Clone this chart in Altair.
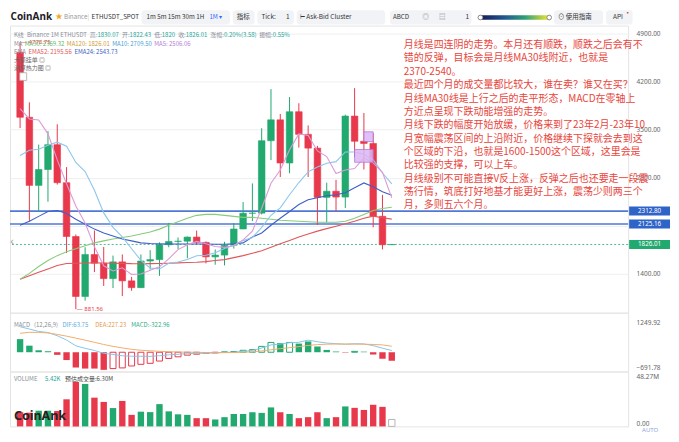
import altair as alt
import pandas as pd

# ---------------- data ----------------
months = ["2021-12", "2022-01", "2022-02", "2022-03", "2022-04", "2022-05", "2022-06", "2022-07",
          "2022-08", "2022-09", "2022-10", "2022-11", "2022-12",
          "2023-01", "2023-02", "2023-03", "2023-04", "2023-05", "2023-06", "2023-07", "2023-08",
          "2023-09", "2023-10", "2023-11", "2023-12",
          "2024-01", "2024-02", "2024-03", "2024-04", "2024-05", "2024-06", "2024-07", "2024-08",
          "2024-09", "2024-10", "2024-11", "2024-12",
          "2025-01", "2025-02", "2025-03", "2025-04"]
opens = [4630, 3682, 2688, 2920, 3282, 2727, 1942, 1067, 1679, 1553, 1328, 1572, 1295,
         1196, 1585, 1605, 1822, 1870, 1874, 1934, 1856, 1645, 1671, 1815, 2052,
         2282, 2283, 3340, 3645, 3015, 3763, 3433, 3232, 2513, 2603, 2518, 3700,
         3332, 3300, 2237, 1822.43]
highs = [4778.75, 3900, 3283, 3480, 3580, 2955, 1972, 1785, 2030, 1789, 1664, 1680, 1353,
         1680, 1743, 1857, 2141, 1928, 1942, 2029, 1870, 1753, 1865, 2138, 2445,
         2717, 3522, 4093, 3730, 3977, 3887, 3563, 3265, 2728, 2769, 3720, 4107,
         3745, 3450, 2550, 1830.07]
lows = [3524, 2159, 2300, 2450, 2700, 1700, 881.56, 1006, 1422, 1220, 1190, 1073, 1150,
        1190, 1461, 1368, 1785, 1760, 1626, 1826, 1550, 1531, 1521, 1766, 2050,
        2167, 2265, 3057, 2810, 2865, 3240, 2810, 2111, 2150, 2310, 2357, 3100,
        2920, 2076, 1754, 1820]
closes = [3682, 2688, 2920, 3282, 2727, 1942, 1067, 1679, 1553, 1328, 1572, 1295, 1196,
          1585, 1605, 1822, 1870, 1874, 1934, 1856, 1645, 1671, 1815, 2052, 2282,
          2283, 3340, 3645, 3015, 3763, 3433, 3232, 2513, 2603, 2518, 3700, 3332,
          3300, 2237, 1822, 1826.01]

ma5 = [3807, 3658, 3642, 3440, 3060, 2712, 2388, 2139, 1794, 1514, 1440, 1485, 1389,
       1395, 1451, 1501, 1616, 1751, 1821, 1871, 1836, 1796, 1784, 1808, 1893,
       2021, 2354, 2720, 2913, 3209, 3439, 3418, 3191, 3109, 2860, 2913, 2933,
       3091, 3017, 2878, 2506.06]
ma10 = [3124, 3201, 3216, 3274, 3319, 3259, 3023, 2891, 2617, 2287, 2076, 1937, 1764,
        1594, 1482, 1470, 1551, 1570, 1608, 1661, 1668, 1706, 1768, 1814, 1882,
        1928, 2075, 2252, 2360, 2551, 2730, 2886, 2956, 3011, 3035, 3176, 3175,
        3141, 3063, 2869, 2709.50]
ma30 = [1318, 1404, 1505, 1591, 1663, 1720, 1763, 1806, 1849, 1878, 1906, 1928, 1950,
        1978, 2007, 2050, 2107, 2158, 2208, 2251, 2265, 2265, 2251, 2236, 2222,
        2222, 2208, 2193, 2179, 2172, 2165, 2158, 2150, 2150, 2150, 2165, 2208,
        2265, 2323, 2351, 2369.32]
ema52 = [1318, 1368, 1419, 1469, 1519, 1548, 1552, 1556, 1558, 1556, 1553, 1550, 1546,
         1545, 1546, 1549, 1553, 1557, 1562, 1567, 1576, 1591, 1605, 1634, 1663,
         1698, 1734, 1785, 1835, 1885, 1935, 1978, 2021, 2057, 2093, 2129, 2165,
         2208, 2240, 2215, 2195.56]
ema24 = [2107, 2165, 2236, 2308, 2322, 2279, 2193, 2122, 2050, 1993, 1950, 1906, 1878,
         1849, 1840, 1835, 1833, 1832, 1832, 1833, 1832, 1830, 1830, 1835, 1849,
         1935, 1993, 2107, 2208, 2308, 2409, 2480, 2509, 2538, 2552, 2581, 2653,
         2724, 2667, 2595, 2543.73]

macd_hist = [497, 249, 74, 37, -99, -296, -582, -619, -619, -668, -619, -594, -520,
             -458, -421, -334, -235, -173, -111, -74, -62, -25, 12, 25, 74,
             99, 222, 371, 347, 371, 327, 409, 218, 87, 27, -16, 33,
             22, -87, -247, -322.96]
macd_hollow = [0, 0, 0, 0, 0, 0, 0, 0, 0, 0, 1, 1, 1,
               1, 1, 1, 1, 1, 1, 1, 0, 1, 1, 1, 1,
               1, 1, 1, 0, 1, 0, 0, 0, 0, 0, 0, 1,
               0, 0, 0, 0]
dea = [719, 756, 752, 730, 676, 610, 534, 458, 376, 294, 223, 164, 109,
       76, 55, 35, 20, 9, 2, -4, -11, -15, -15, -11, 0,
       16, 49, 93, 136, 174, 213, 256, 289, 305, 311, 311, 307,
       305, 294, 278, 227.23]
dif = [968, 880, 789, 748, 626, 462, 243, 148, 66, -40, -86, -133, -151,
       -153, -156, -132, -98, -78, -54, -41, -42, -27, -9, 1, 37,
       66, 160, 278, 310, 360, 377, 460, 398, 348, 324, 303, 323,
       316, 250, 154, 63.75]

volumes_m = [12.9, 12.5, 14.3, 14.3, 14.0, 24.7, 40.5, 38.7, 26.2, 22.3, 16.7, 23.2, 10.5,
             13.4, 13.0, 20.3, 13.7, 11.0, 10.5, 7.5, 7.5, 6.3, 8.4, 11.3, 11.3,
             12.9, 12.3, 17.3, 12.9, 11.3, 7.5, 8.4, 12.9, 7.5, 8.4, 18.2, 16.9,
             15.0, 19.7, 17.8, 0.00542]
est_volume_m = 6.30

level_prices = [2312.80, 2125.16]
last_price = 1826.01

# purple order boxes (month index span, price span)
box_x0 = [37.0, 36.0]
box_x1 = [38.0, 38.0]
box_p0 = [3327, 3026]
box_p1 = [3470, 3212]

annotation_lines = [
    "月线是四连阴的走势。本月还有顺跌，顺跌之后会有不",
    "错的反弹，目标会是月线MA30线附近，也就是",
    "2370-2540。",
    "最近四个月的成交量都比较大，谁在卖？谁又在买？",
    "月线MA30线是上行之后的走平形态，MACD在零轴上",
    "方近点呈现下跌动能增强的走势。",
    "月线下跌的幅度开始放缓，价格来到了23年2月-23年10",
    "月宽幅震荡区间的上沿附近，价格继续下探就会去到这",
    "个区域的下沿，也就是1600-1500这个区域，这里会是",
    "比较强的支撑，可以上车。",
    "月线级别不可能直接V反上涨，反弹之后也还要走一段震",
    "荡行情，筑底打好地基才能更好上涨，震荡少则两三个",
    "月，多则五六个月。",
]

# ---------------- layout / style ----------------
W = 620
H_TOOL = 16
H_PRICE = 288
H_MACD = 59
H_VOL = 55
FONT = "Noto Sans CJK SC"
RED = "#e8394c"
GREEN = "#22a96f"
GRAY = "#8a8f99"
VAL = "#26a69a"


def sx(v):
    return round((v - 3) * 0.985, 1)


def tw(s, fs):
    w = 0.0
    for ch in s:
        o = ord(ch)
        if o >= 0x2E80 or ch in "◎★▾▤⊙":
            w += fs
        elif ch.isdigit():
            w += 0.55 * fs
        elif ch.isupper():
            w += 0.64 * fs
        elif ch.islower():
            w += 0.52 * fs
        elif ch in " .:,;":
            w += 0.27 * fs
        elif ch in "()":
            w += 0.33 * fs
        elif ch == "%":
            w += 0.85 * fs
        elif ch in "-_":
            w += 0.4 * fs
        else:
            w += 0.55 * fs
    return w


def seg_rows(lines, x0, fs):
    rows = []
    for y, parts in lines:
        x = x0
        for t, c in parts:
            rows.append({"t": t, "x": x, "y": y, "c": c})
            x += tw(t, fs)
    return pd.DataFrame(rows)


def text_layer(lines, x0, fs):
    return alt.Chart(seg_rows(lines, x0, fs)).mark_text(
        align="left", baseline="middle", fontSize=fs, font=FONT
    ).encode(
        x=alt.X("x:Q", scale=None, axis=None),
        y=alt.Y("y:Q", scale=None, axis=None),
        text="t:N",
        color=alt.Color("c:N", scale=None),
    )


n = len(months)
idx = list(range(n))
df = pd.DataFrame({
    "idx": idx, "month": months, "open": opens, "high": highs, "low": lows, "close": closes,
    "vol": volumes_m, "hist": macd_hist, "hollow": macd_hollow, "dif": dif, "dea": dea,
})

x_scale = alt.Scale(domain=[-0.55, 64.9], nice=False, zero=False)
X = alt.X("idx:Q", scale=x_scale, axis=None)
dir_scale = alt.Scale(domain=["up", "down"], range=[GREEN, RED])

AX_STYLE = dict(labelFont="Noto Sans", labelFontSize=6.5, labelColor="#666666")

# ---------------- toolbar ----------------
tb_boxes = pd.DataFrame({
    "x0": [sx(137), sx(230), sx(255), sx(295), sx(390), sx(557), sx(610)],
    "x1": [sx(227), sx(252), sx(292), sx(385), sx(473), sx(607), sx(637)],
    "y0": [0.5] * 7, "y1": [15.0] * 7,
})
tb_items = pd.DataFrame([
    {"t": "★", "x": sx(49), "s": 7.5, "c": "#f5a623"},
    {"t": "Binance", "x": sx(58), "s": 6.3, "c": "#9a9a9a"},
    {"t": "|", "x": sx(82), "s": 6.5, "c": "#cccccc"},
    {"t": "ETHUSDT_SPOT", "x": sx(86), "s": 6.3, "c": "#333333"},
    {"t": "1m  5m  15m  30m  1H", "x": sx(142), "s": 6.3, "c": "#333333"},
    {"t": "1M ▾", "x": sx(206), "s": 6.3, "c": "#2f6bff"},
    {"t": "指标", "x": sx(234), "s": 6.5, "c": "#333333"},
    {"t": "Tick:", "x": sx(259), "s": 6.5, "c": "#333333"},
    {"t": "1", "x": sx(284), "s": 6.5, "c": "#333333"},
    {"t": "⊢ Ask-Bid Cluster", "x": sx(298), "s": 6.5, "c": "#333333"},
    {"t": "ABCD", "x": sx(393), "s": 6.3, "c": "#333333"},
    {"t": "◎", "x": sx(423), "s": 6.5, "c": "#888888"},
    {"t": "▤", "x": sx(440), "s": 6.5, "c": "#888888"},
    {"t": "1", "x": sx(467), "s": 6.5, "c": "#333333"},
    {"t": "⊙ 使用指南", "x": sx(561), "s": 6.5, "c": "#333333"},
    {"t": "API", "x": sx(617), "s": 6.5, "c": "#333333"},
    {"t": "•", "x": sx(628), "s": 8, "c": "#e53935"},
])
tb_items["y"] = [7.8] * (len(tb_items) - 1) + [4.0]

tool_boxes = alt.Chart(tb_boxes).mark_rect(cornerRadius=3, color="#f2f3f6").encode(
    x=alt.X("x0:Q", scale=None, axis=None), x2="x1:Q",
    y=alt.Y("y0:Q", scale=None, axis=None), y2="y1:Q")
tool_logo = alt.Chart(pd.DataFrame({"t": ["CoinAnk"], "x": [0.5], "y": [7.6]})).mark_text(
    align="left", baseline="middle", fontSize=10, fontWeight="bold", font="Noto Sans", color="#1d2129"
).encode(x=alt.X("x:Q", scale=None, axis=None), y=alt.Y("y:Q", scale=None, axis=None), text="t:N")
tool_text = alt.Chart(tb_items).mark_text(align="left", baseline="middle", font=FONT).encode(
    x=alt.X("x:Q", scale=None, axis=None), y=alt.Y("y:Q", scale=None, axis=None),
    text="t:N", size=alt.Size("s:Q", scale=None), color=alt.Color("c:N", scale=None))
grad = alt.LinearGradient(
    gradient="linear", x1=0, x2=1, y1=0, y2=0,
    stops=[alt.GradientStop(offset=0, color="#141a55"),
           alt.GradientStop(offset=0.35, color="#23588f"),
           alt.GradientStop(offset=0.65, color="#2fa07a"),
           alt.GradientStop(offset=1, color="#f3e62a")])
tool_grad = alt.Chart(pd.DataFrame({"x0": [sx(482)], "x1": [sx(552)], "y0": [5.6], "y1": [10.2]})).mark_rect(
    cornerRadius=2, fill=grad).encode(
    x=alt.X("x0:Q", scale=None, axis=None), x2="x1:Q",
    y=alt.Y("y0:Q", scale=None, axis=None), y2="y1:Q")
tool_handles = alt.Chart(pd.DataFrame({"x": [sx(482), sx(552)], "y": [7.9, 7.9]})).mark_point(
    shape="circle", filled=True, fill="white", stroke="#8a8a8a", strokeWidth=1, size=22, opacity=1).encode(
    x=alt.X("x:Q", scale=None, axis=None), y=alt.Y("y:Q", scale=None, axis=None))

toolbar = alt.layer(tool_boxes, tool_grad, tool_handles, tool_logo, tool_text).properties(
    width=W + 42, height=H_TOOL, view=alt.ViewBackground(stroke="transparent"))

# ---------------- price panel ----------------
price_scale = alt.Scale(domain=[830, 5020], nice=False, zero=False)
price_axis = alt.Axis(orient="right", values=[1400, 2100, 2800, 3500, 4200, 4900],
                      labelExpr="datum.value == 2100 ? '' : format(datum.value, '.2f')",
                      ticks=False, domain=False, grid=True, gridColor="#efefef",
                      labelPadding=8, labelFlush=False, labelOverlap=False, title=None, **AX_STYLE)


def PY(field):
    return alt.Y(field, scale=price_scale, axis=price_axis, title=None)


base = alt.Chart(df).transform_calculate(dir="datum.close >= datum.open ? 'up' : 'down'")

levels = alt.Chart(pd.DataFrame({"price": level_prices})).mark_rule(
    color="#4f79d4", strokeWidth=1.6).encode(y=PY("price:Q"))
last_rule = alt.Chart(pd.DataFrame({"price": [last_price]})).mark_rule(
    color="#52b89c", strokeWidth=1, strokeDash=[2, 2]).encode(y=PY("price:Q"))

wicks = base.mark_rule(strokeWidth=1).encode(
    x=X, y=PY("low:Q"), y2="high:Q",
    color=alt.Color("dir:N", scale=dir_scale, legend=None))
bodies = base.mark_bar(size=6.6, strokeWidth=0.6).encode(
    x=X, y=PY("open:Q"), y2="close:Q",
    color=alt.Color("dir:N", scale=dir_scale, legend=None),
    stroke=alt.Stroke("dir:N", scale=dir_scale, legend=None))

ma_series = [("EMA52", ema52, "#e0575b"), ("MA30", ma30, "#86cc7a"), ("EMA24", ema24, "#3d5fc9"),
             ("MA10", ma10, "#8ec6ea"), ("MA5", ma5, "#dd9ad8")]
ma_layers = []
for name, vals, col in ma_series:
    d = pd.DataFrame({"idx": idx, "value": vals})
    ma_layers.append(alt.Chart(d).mark_line(color=col, strokeWidth=1.1).encode(x=X, y=PY("value:Q")))

boxes = alt.Chart(pd.DataFrame({"x0": box_x0, "x1": box_x1, "p0": box_p0, "p1": box_p1})).mark_rect(
    fill="#dcb6f4", stroke="#b47ae0", strokeWidth=1, opacity=0.85).encode(
    x=alt.X("x0:Q", scale=x_scale, axis=None), x2="x1:Q", y=PY("p0:Q"), y2="p1:Q")

hi_lbl = base.transform_joinaggregate(mh="max(high)").transform_filter("datum.high == datum.mh").transform_calculate(
    lbl="'— ' + format(datum.high, '.2f')").mark_text(
    align="left", baseline="middle", dx=1, fontSize=6, color=RED, font="Noto Sans").encode(
    x=X, y=PY("high:Q"), text="lbl:N")
lo_lbl = base.transform_joinaggregate(ml="min(low)").transform_filter("datum.low == datum.ml").transform_calculate(
    lbl="'— ' + format(datum.low, '.2f')").mark_text(
    align="left", baseline="middle", dx=1, fontSize=6, color=RED, font="Noto Sans").encode(
    x=X, y=PY("low:Q"), text="lbl:N")

annot = alt.Chart(pd.DataFrame({"t": ["\n".join(annotation_lines)]})).mark_text(
    align="left", baseline="top", lineBreak="\n", lineHeight=13.4, fontSize=10,
    color="#e8453c", font=FONT).encode(x=alt.value(395), y=alt.value(14.6), text="t:N")

legend_lines = [
    (9.4, [("K线  ", GRAY), ("Binance 1M ETHUSDT  ", GRAY), ("高:", GRAY), ("1830.07  ", VAL),
           ("开:", GRAY), ("1822.43  ", VAL), ("低:", GRAY), ("1820  ", VAL), ("收:", GRAY),
           ("1826.01  ", VAL), ("涨幅:", GRAY), ("0.20%(3.58)  ", VAL), ("振幅:", GRAY), ("0.55%", VAL)]),
    (18.0, [("MA  ", GRAY), ("MA30: 2369.32  ", "#5fb865"), ("MA120: 1826.01  ", "#d39a2f"),
            ("MA10: 2709.50  ", "#4a9fd6"), ("MA5: 2506.06", "#b57ddb")]),
    (26.3, [("EMA  ", GRAY), ("EMA52: 2195.56  ", "#e0575b"), ("EMA24: 2543.73", "#3d5fc9")]),
    (34.5, [("大额挂单  ◎", "#666666")]),
    (42.7, [("清算热力图  ◎", "#666666")]),
]
legend_txt = text_layer(legend_lines, 3.9, 6.0)
legend_box = alt.Chart(pd.DataFrame({"x0": [sx(13)], "x1": [sx(20)], "y0": [47.3], "y1": [55.0]})).mark_rect(
    fill="white", stroke="#aaaaaa", strokeWidth=0.8).encode(
    x=alt.X("x0:Q", scale=None, axis=None), x2="x1:Q",
    y=alt.Y("y0:Q", scale=None, axis=None), y2="y1:Q")
arrow = alt.Chart(pd.DataFrame({"t": ["‹"]})).mark_text(fontSize=11, color="#999999").encode(
    x=alt.value(2), y=alt.value(217), text="t:N")

tags = pd.DataFrame({"price": level_prices + [last_price], "c": ["#2e63c8", "#2e63c8", GREEN]})
tag_box = alt.Chart(tags).mark_tick(orient="horizontal", thickness=9, size=41, opacity=1).encode(
    x=alt.value(W + 21.5), y=PY("price:Q"), color=alt.Color("c:N", scale=None))
tag_txt = alt.Chart(tags).transform_calculate(lbl="format(datum.price, '.2f')").mark_text(
    fontSize=6.3, color="white", font="Noto Sans").encode(
    x=alt.value(W + 21.5), y=PY("price:Q"), text="lbl:N")

price = alt.layer(levels, last_rule, wicks, bodies, *ma_layers, boxes, hi_lbl, lo_lbl,
                  annot, legend_txt, legend_box, arrow, tag_box, tag_txt).resolve_scale(
    color="independent", stroke="independent").properties(width=W, height=H_PRICE)

# ---------------- MACD panel ----------------
macd_scale = alt.Scale(domain=[-732, 1498], nice=False, zero=False)
macd_axis = alt.Axis(orient="right", values=[1249.92, -691.78], format=".2f", ticks=False,
                     domain=False, grid=False, labelPadding=8, labelFlush=9,
                     labelOverlap=False, title=None, **AX_STYLE)


def MY(field):
    return alt.Y(field, scale=macd_scale, axis=macd_axis, title=None)


sign_scale = alt.Scale(domain=["pos", "neg"], range=[GREEN, RED])
mbase = alt.Chart(df).transform_calculate(sgn="datum.hist >= 0 ? 'pos' : 'neg'")
m_filled = mbase.transform_filter("datum.hollow == 0").mark_bar(size=6.4).encode(
    x=X, y=MY("hist:Q"), y2=alt.datum(0), color=alt.Color("sgn:N", scale=sign_scale, legend=None))
m_hollow = mbase.transform_filter("datum.hollow == 1").mark_bar(size=6.0, fill="white", strokeWidth=1).encode(
    x=X, y=MY("hist:Q"), y2=alt.datum(0), stroke=alt.Stroke("sgn:N", scale=sign_scale, legend=None))
m_dif = alt.Chart(df).mark_line(color="#86c6ea", strokeWidth=1).encode(x=X, y=MY("dif:Q"))
m_dea = alt.Chart(df).mark_line(color="#f0ae6e", strokeWidth=1).encode(x=X, y=MY("dea:Q"))
m_leg = text_layer([(12.7, [("MACD   ", GRAY), ("(12,26,9)   ", GRAY), ("DIF:63.75   ", "#59aee0"),
                            ("DEA:227.23   ", "#e79a4f"), ("MACD:-322.96", "#2fae8a")])], 3.9, 6.0)

macd = alt.layer(m_filled, m_hollow, m_dif, m_dea, m_leg).resolve_scale(
    color="independent", stroke="independent").properties(width=W, height=H_MACD)

# ---------------- volume panel ----------------
vol_scale = alt.Scale(domain=[0, 50], nice=False, zero=True)
vol_axis = alt.Axis(orient="right", values=[0, 48.27],
                    labelExpr="datum.value == 0 ? '0.00' : format(datum.value, '.2f') + 'M'",
                    ticks=False, domain=False, grid=False, labelPadding=8, labelFlush=6,
                    labelOverlap=False, title=None, **AX_STYLE)


def VY(field):
    return alt.Y(field, scale=vol_scale, axis=vol_axis, title=None)


v_bars = base.transform_joinaggregate(mi="max(idx)").transform_filter("datum.idx < datum.mi").mark_bar(
    size=6.4).encode(x=X, y=VY("vol:Q"), y2=alt.datum(0),
                     color=alt.Color("dir:N", scale=dir_scale, legend=None))
v_est = alt.Chart(pd.DataFrame({"idx": [n - 1], "est": [est_volume_m]})).mark_bar(
    size=6.4, fill="white", stroke="#b5b5b5", strokeWidth=1).encode(x=X, y=VY("est:Q"), y2=alt.datum(0))
v_leg = text_layer([(7.8, [("VOLUME     ", GRAY), ("5.42K   ", "#26a69a"),
                           ("预估成交量:6.30M", "#444444")])], 3.9, 6.0)
v_mark = alt.Chart(pd.DataFrame({"t": ["CoinAnk"]})).mark_text(
    align="left", baseline="middle", fontSize=12.5, fontWeight="bold", font="Noto Sans",
    color="#222222").encode(x=alt.value(4), y=alt.value(45), text="t:N")
v_auto = alt.Chart(pd.DataFrame({"t": ["AUTO"]})).mark_text(
    align="left", baseline="middle", fontSize=6, color="#8fa3dc", font="Noto Sans").encode(
    x=alt.value(W + 14), y=alt.value(H_VOL + 3.5), text="t:N")

vol = alt.layer(v_bars, v_est, v_leg, v_mark, v_auto).resolve_scale(color="independent").properties(
    width=W, height=H_VOL)

chart = alt.vconcat(toolbar, price, macd, vol, spacing=0, bounds="flush", padding=0).properties(
    background="white").configure_view(stroke="#e4e4e4")

chart.save("out.html", embed_options={"renderer": "svg", "actions": False})
